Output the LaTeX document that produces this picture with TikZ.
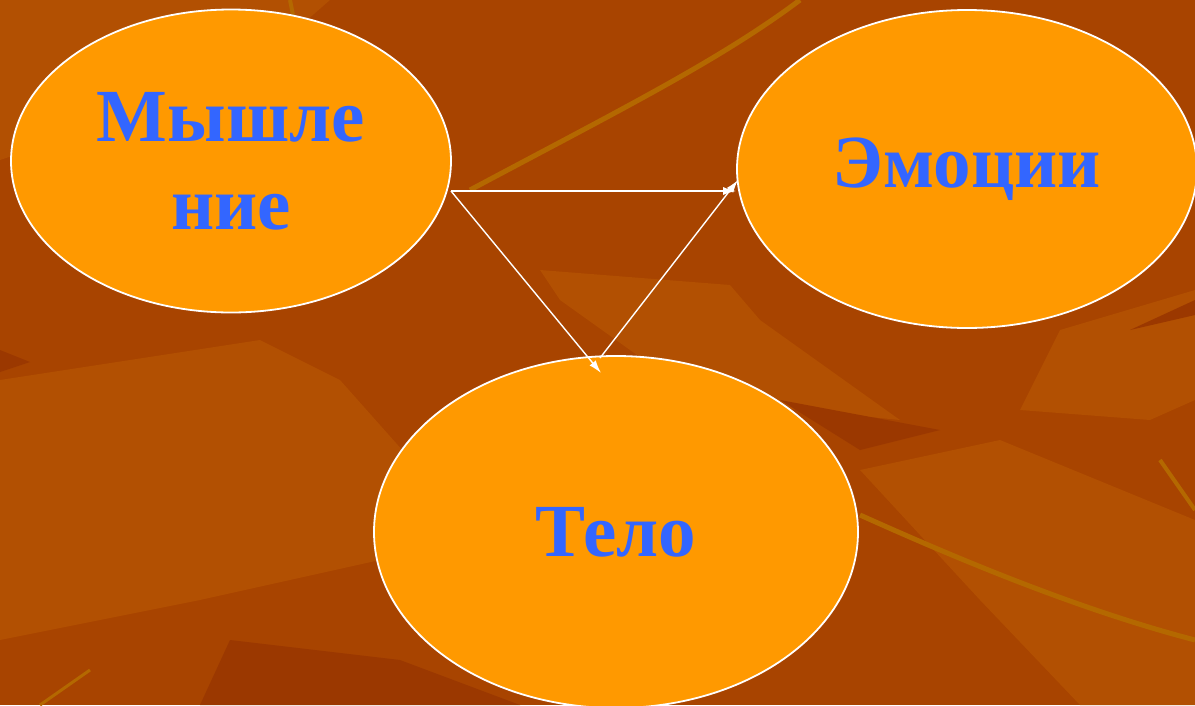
\documentclass[tikz,border=0pt]{standalone}
\usepackage{fontspec}
\setmainfont{Liberation Serif}
\usetikzlibrary{shapes.geometric,arrows.meta}

\definecolor{bgbrown}{RGB}{168,68,0}
\definecolor{bglight}{RGB}{178,80,2}
\definecolor{bgdark}{RGB}{155,56,0}
\definecolor{streak}{RGB}{180,104,0}
\definecolor{nodeorange}{RGB}{255,153,0}
\definecolor{textblue}{RGB}{51,102,255}

\begin{document}
\begin{tikzpicture}
  [x=1pt,y=-1pt,
   bubble/.style={draw=white,line width=1.8pt,ellipse,fill=nodeorange,text=textblue,
     font=\fontsize{75}{88}\selectfont\bfseries,align=center,inner sep=0pt},
   arr/.style={draw=white,line width=1.4pt,-{Latex[length=13pt,width=8pt]}}]
  \useasboundingbox (0,0) rectangle (1195,705);
  \clip (0,0) rectangle (1195,705);
  % background
  \fill[bgbrown] (0,0) rectangle (1195,705);
  \fill[bglight] (0,0) -- (330,0) -- (250,70) -- (60,140) -- (0,160) -- cycle;
  \fill[bglight] (0,380) -- (260,340) -- (340,380) -- (420,470) -- (380,560) -- (200,600) -- (0,640) -- cycle;
  \fill[bglight] (540,270) -- (730,285) -- (760,320) -- (900,420) -- (700,400) -- (560,300) -- cycle;
  \fill[bglight] (1020,410) -- (1060,330) -- (1195,290) -- (1195,400) -- (1150,420) -- cycle;
  \fill[bglight] (860,470) -- (1000,440) -- (1195,520) -- (1195,705) -- (1080,705) -- (980,600) -- cycle;
  \fill[bgdark] (0,350) -- (30,362) -- (0,372) -- cycle;
  \fill[bgdark] (780,400) -- (940,430) -- (860,450) -- cycle;
  \fill[bgdark] (230,640) -- (400,660) -- (520,705) -- (200,705) -- cycle;
  \fill[bgdark] (1130,330) -- (1195,300) -- (1195,315) -- cycle;
  \draw[streak,line width=5pt] (470,190) .. controls (620,110) and (720,60) .. (800,0);
  \draw[streak,line width=5pt] (860,515) .. controls (960,560) and (1080,610) .. (1195,640);
  \draw[streak,line width=4pt] (1160,460) -- (1195,510);
  \draw[streak,line width=3pt] (40,705) -- (90,670);
  \draw[streak,line width=4pt] (290,0) -- (295,25);
  % nodes
  \node[bubble,minimum width=440pt,minimum height=303pt] (mysh) at (231,161) {Мышле\\ние};
  \node[bubble,minimum width=460pt,minimum height=318pt] (emo) at (967,169) {Эмоции};
  \node[bubble,minimum width=484pt,minimum height=352pt] (telo) at (616,532) {Тело};
  % arrow ends
  \coordinate (mo) at (451,191);
  \coordinate (te1) at (601,373);
  \coordinate (te2) at (600,358);
  \coordinate (em1) at (738,180);
  \draw[arr] (mo) -- (mo -| emo.west);
  \draw[arr] (mo) -- (te1);
  \draw[arr] (te2) -- (em1);
\end{tikzpicture}
\end{document}
